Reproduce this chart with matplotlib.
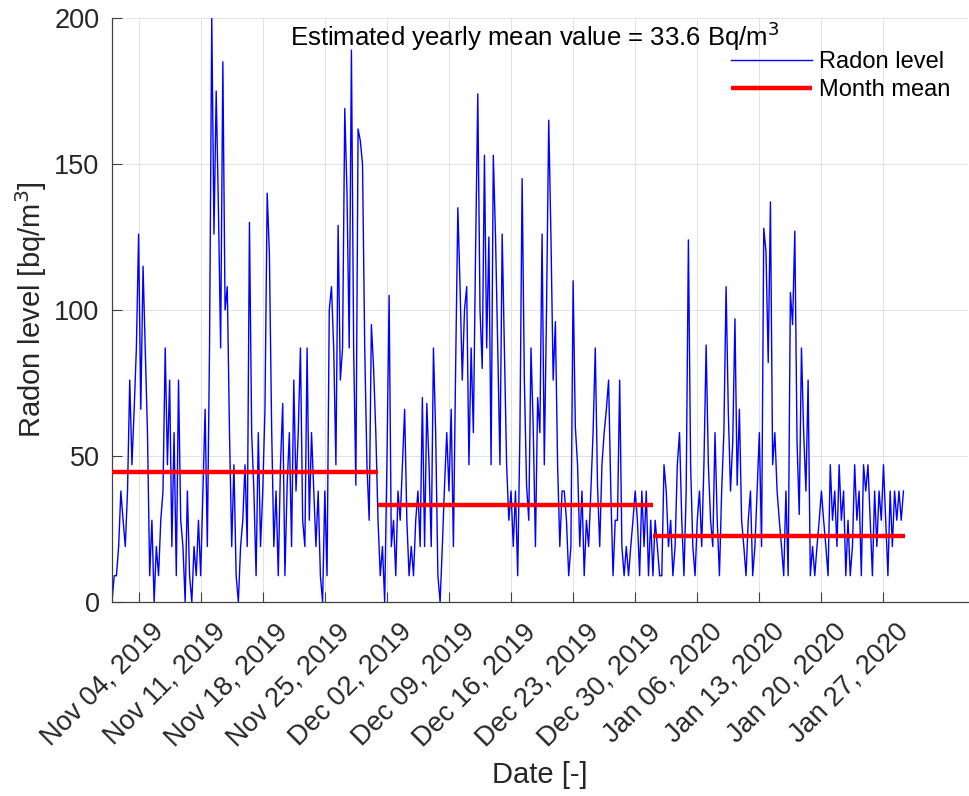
import matplotlib
matplotlib.use('Agg')
import matplotlib.pyplot as plt
import matplotlib.dates as mdates
import matplotlib.transforms as mtransforms
from datetime import datetime, timedelta

plt.rcParams['font.family'] = ['Liberation Sans', 'DejaVu Sans']

# ---------------- data (6-hourly estimates) ----------------
series_start = datetime(2019, 11, 1)
step_hours = 6
radon = [
    0, 9, 9, 19,      38, 28, 19, 38,     76, 47, 66, 87,     126, 66, 115, 87,
    58, 9, 28, 0,     19, 9, 28, 38,      87, 47, 76, 19,     58, 9, 76, 28,
    19, 0, 38, 9,     0, 19, 9, 28,       9, 38, 66, 19,      88, 200, 126, 175,
    135, 87, 185, 100, 108, 58, 19, 47,   9, 0, 19, 28,       47, 19, 130, 58,
    38, 9, 58, 19,    38, 66, 140, 119,   60, 19, 38, 9,      47, 68, 9, 40,
    58, 19, 76, 38,   58, 87, 28, 19,     87, 28, 58, 38,     19, 38, 9, 0,
    38, 9, 100, 108,  87, 47, 129, 76,    87, 169, 140, 87,   189, 87, 40, 162,
    158, 150, 87, 47, 28, 95, 80, 58,     28, 9, 19, 0,       47, 105, 19, 28,
    9, 38, 28, 47,    66, 28, 9, 19,      9, 28, 38, 19,      70, 19, 68, 47,
    19, 87, 58, 9,    0, 19, 40, 58,      38, 66, 19, 80,     135, 108, 76, 100,
    108, 47, 87, 58,  120, 174, 100, 80,  153, 87, 125, 47,   153, 125, 87, 47,
    126, 87, 47, 28,  38, 19, 38, 9,      58, 145, 76, 40,    28, 87, 60, 19,
    70, 58, 126, 47,  100, 165, 125, 76,  96, 47, 19, 38,     38, 28, 9, 19,
    110, 60, 47, 19,  38, 9, 28, 19,      38, 58, 87, 40,     19, 47, 58, 66,
    76, 38, 9, 28,    28, 76, 19, 9,      19, 9, 19, 28,      38, 28, 9, 38,
    19, 38, 9, 28,    9, 28, 19, 9,       9, 47, 38, 19,      28, 9, 19, 47,
    58, 28, 9, 38,    124, 47, 19, 9,     28, 38, 19, 47,     88, 47, 28, 19,
    58, 28, 9, 38,    58, 108, 65, 38,    55, 97, 40, 66,     28, 19, 9, 28,
    38, 9, 19, 38,    58, 19, 128, 120,   82, 137, 47, 58,    38, 28, 19, 9,
    38, 9, 106, 95,   127, 55, 30, 87,    58, 38, 76, 9,      19, 9, 19, 28,
    38, 28, 19, 9,    47, 28, 38, 19,     47, 28, 38, 9,      28, 9, 19, 47,
    28, 38, 9, 47,    38, 47, 28, 9,      38, 19, 38, 28,     47, 28, 9, 38,
    19, 38, 28, 38,   28, 38,
]

month_start = ['2019-11-01 00:00', '2019-12-01 00:00', '2020-01-01 00:00']
month_end = ['2019-12-01 00:00', '2020-01-01 00:00', '2020-01-29 09:00']
month_mean = [44.5, 33.3, 22.5]

tick_dates = ['2019-11-04', '2019-11-11', '2019-11-18', '2019-11-25', '2019-12-02',
              '2019-12-09', '2019-12-16', '2019-12-23', '2019-12-30', '2020-01-06',
              '2020-01-13', '2020-01-20', '2020-01-27']
y_ticks = [0, 50, 100, 150, 200]
annotation = 'Estimated yearly mean value = 33.6 Bq/m$^3$'

# ---------------- figure ----------------
fig = plt.figure(figsize=(9.69, 7.96), dpi=100)
ax = fig.add_axes([112/969, 1-602/796, 856/969, 584/796])

times = [series_start + timedelta(hours=step_hours*i) for i in range(len(radon))]
ax.plot(times, radon, color=(0, 0, 1), lw=1.0, label='Radon level', zorder=2)

fmt = '%Y-%m-%d %H:%M'
for i, (s, e, m) in enumerate(zip(month_start, month_end, month_mean)):
    ax.plot([datetime.strptime(s, fmt), datetime.strptime(e, fmt)], [m, m],
            color=(1, 0, 0), lw=3.2, solid_capstyle='butt',
            label='Month mean' if i == 0 else None, zorder=3)

ax.set_xlim(series_start, series_start + timedelta(days=96.53))
ax.set_ylim(0, 200)

tks = [datetime.strptime(t, '%Y-%m-%d') for t in tick_dates]
ax.set_xticks(tks)
ax.set_xticklabels([t.strftime('%b %d, %Y') for t in tks])
ax.set_yticks(y_ticks)

ax.grid(True, color='#e2e2e2', lw=0.7, zorder=0)
ax.set_axisbelow(True)

for sp in ['top', 'right']:
    ax.spines[sp].set_visible(False)
for sp in ['left', 'bottom']:
    ax.spines[sp].set_color('#404040')
    ax.spines[sp].set_linewidth(0.9)

ax.tick_params(axis='both', direction='in', length=7, width=0.8, color='#404040',
               labelsize=19.5, labelcolor='#262626')
ax.tick_params(axis='y', pad=9)

offset = mtransforms.ScaledTranslation(12/100, -12/100, fig.dpi_scale_trans)
for lab in ax.get_xticklabels():
    lab.set_rotation(45)
    lab.set_ha('right')
    lab.set_va('top')
    lab.set_rotation_mode('anchor')
    lab.set_transform(lab.get_transform() + offset)

ax.set_xlabel('Date [-]', fontsize=21, color='#262626', labelpad=7)
ax.set_ylabel('Radon level [bq/m$^3$]', fontsize=21, color='#262626', labelpad=4)

ax.text((290-112)/856, (602-36)/584, annotation, transform=ax.transAxes,
        fontsize=18.5, ha='left', va='center', color='black')

leg = ax.legend(loc='upper left', bbox_to_anchor=((722-112)/856, (602-42)/584),
                frameon=False, fontsize=17, handlelength=3.4, handletextpad=0.3,
                labelspacing=0.25, borderaxespad=0)

fig.savefig('out.png', dpi=100)
